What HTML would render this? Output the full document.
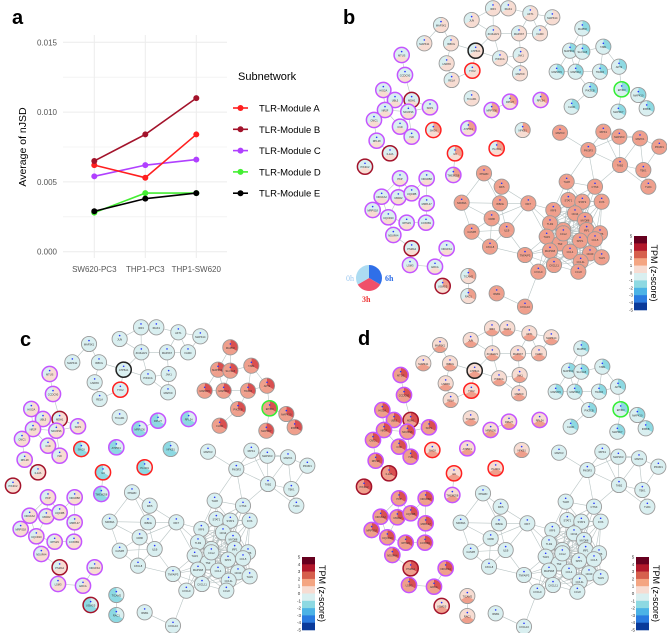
<!DOCTYPE html>
<html><head><meta charset="utf-8"><style>
html,body{margin:0;padding:0;background:#fff;}
svg{display:block;font-family:"Liberation Sans",sans-serif;}
</style></head><body>
<svg id="fig" width="667" height="633" viewBox="0 0 667 633" xmlns="http://www.w3.org/2000/svg">
<g id="panelA"></g>
<g id="nets"></g>
</svg>
<script>
const categories = ["SW620-PC3","THP1-PC3","THP1-SW620"];
const seriesNames = ["TLR-Module A","TLR-Module B","TLR-Module C","TLR-Module D","TLR-Module E"];
const seriesA = [0.0062,0.0053,0.0084];
const seriesB = [0.0065,0.0084,0.0110];
const seriesC = [0.0054,0.0062,0.0066];
const seriesD = [0.0028,0.0042,0.0042];
const seriesE = [0.0029,0.0038,0.0042];
const yTicks = [0,0.005,0.010,0.015];
const yTickLabels = ["0.000","0.005","0.010","0.015"];
const seriesColors = ["#ff1f1f","#a3132b","#b040ff","#44ee33","#000000"];

const NS="http://www.w3.org/2000/svg";
function mk(tag,attrs,parent,txt){const e=document.createElementNS(NS,tag);for(const k in attrs)e.setAttribute(k,attrs[k]);if(txt!==undefined)e.textContent=txt;parent.appendChild(e);return e;}

// ---- Panel A ----
const A=document.getElementById('panelA');
const px0=63,px1=227,py0=251.7,pyPer=69.8/0.005;
const xScale=i=>94.3+i*51;
const yScale=v=>py0-v*pyPer;
let t=mk('text',{x:12,y:24,'font-size':20,'font-weight':'bold'},A,'a');


for(let v=0;v<=0.0155;v+=0.0025){
  const l=mk('line',{x1:px0,x2:px1,y1:yScale(v),y2:yScale(v),stroke:'#ececec','stroke-width':Math.round(v/0.0025)%2?0.6:1},A);
  
  
}
categories.forEach((c,i)=>{
  const l=mk('line',{x1:xScale(i),x2:xScale(i),y1:35,y2:258,stroke:'#ececec','stroke-width':1},A);
  
  
  const tx=mk('text',{x:xScale(i),y:272,'font-size':8,fill:'#555','text-anchor':'middle'},A,c);
  
  
});
yTicks.forEach((v,i)=>{
  const tx=mk('text',{x:57,y:yScale(v)+3,'font-size':8,fill:'#555','text-anchor':'end'},A,yTickLabels[i]);
  
  
});
t=mk('text',{x:0,y:0,'font-size':10.5,transform:'translate(26,147) rotate(-90)','text-anchor':'middle'},A,'Average of nJSD');


const allSeries=[seriesA,seriesB,seriesC,seriesD,seriesE];
const drawOrder=[3,4,2,0,1];
drawOrder.forEach(si=>{
  const s=allSeries[si];
  const pl=mk('polyline',{points:s.map((v,i)=>xScale(i)+','+yScale(v)).join(' '),fill:'none',stroke:seriesColors[si],'stroke-width':1.6},A);
  
  
  s.forEach((v,i)=>{
    const c=mk('circle',{cx:xScale(i),cy:yScale(v),r:3,fill:seriesColors[si]},A);
    
    
  });
});
t=mk('text',{x:238,y:80,'font-size':11},A,'Subnetwork');


seriesNames.forEach((n,i)=>{
  const y=108+i*21.3;
  const g=mk('g',{},A);
  
  
  mk('line',{x1:233,x2:248,y1:y,y2:y,stroke:seriesColors[i],'stroke-width':1.6},g);
  mk('circle',{cx:240.5,cy:y,r:3,fill:seriesColors[i]},g);
  mk('text',{x:259,y:y+3.5,'font-size':9.5},g,n);
});

// ---- Networks ----
const nodes=[
["IRF3",489,25,"n","T"],["IRAK1",535,25,"n","T"],["AKT1",601,40,"n","T"],["MAPK14",667,52,"n","T"],["JUN",425,60,"n","T"],["MAP3K1",333,75,"n","T"],["ZC3HAV1",490,100,"n","T"],["MAP2K7",567,100,"n","T"],["FADD",630,100,"n","T"],["MAPK11",283,130,"n","T"],["IKBKG",363,130,"n","T"],["ATP5A1",437,152,"k","T"],["PIK3CA",510,175,"n","T"],["JAK1",572,165,"n","T"],["HSPA5",350,190,"n","T"],["TYK2",427,212,"r","T"],["MAPK9",570,220,"n","T"],["RELA",365,240,"n","T"],["TICAM1",425,295,"n","T"],
["MAPK8",757,85,"n","R"],["MAP3K14",720,152,"n","R"],["SLC1A5",757,155,"n","R"],["TAB1",820,140,"n","R"],["MAP2K5",680,215,"n","R"],["MAP3K2",737,215,"n","R"],["AKT2",867,200,"n","R"],["TRAF6",810,215,"n","R"],["EP300",875,268,"g","R"],["MAPK10",925,285,"n","R"],["PIK3CB",780,270,"n","R"],["CHUK",725,320,"n","R"],["IKBKB",950,325,"n","R"],["MAP3K7",865,335,"n","R"],
["RPL27",540,305,"p","M"],["RPL34",632,300,"p","M"],["MRPS36",485,330,"p","M"],["ATP5F1",415,385,"p","M"],["NFKB1",578,390,"n","M"],["PLOD1",500,445,"r","M"],["IL6",375,460,"r","M"],["SHOX",310,390,"r","M"],["TMEM258",370,525,"p","M"],["USMG5",338,858,"d","M"],["RAC1",415,888,"n","M"],["TICAM2",415,828,"n","M"],
["MTUS",215,165,"p","L"],["CCDC90",225,225,"p","L"],["HIG2A",160,270,"p","L"],["MDH1",245,300,"d","L"],["UBL5",195,300,"p","L"],["SKP1",300,322,"p","L"],["NR2F",165,330,"p","L"],["NDUFS6",235,335,"p","L"],["CMC1",132,360,"p","L"],["C1D",210,380,"p","L"],["ISD",245,410,"p","L"],["RPL28",140,422,"p","L"],["IL12A",180,460,"d","L"],["PIK3C2",105,500,"d","L"],["PKP",210,535,"p","L"],["NDUFB8",290,535,"p","L"],["NDUFA2",155,590,"p","L"],["UBA52",205,592,"p","L"],["UQCRB",245,580,"p","L"],["MRPL47",290,610,"p","L"],["MRPS18",128,630,"p","L"],["UQCR10",175,652,"p","L"],["RPS29",230,668,"p","L"],["COX6B1",288,668,"p","L"],["NDUFA4",190,705,"p","L"],["PSMA2",245,745,"d","L"],["NDUFS4",350,745,"p","L"],["LSM3",240,795,"p","L"],["ERCA",315,800,"p","L"],
["MAPK3",690,398,"n","B"],["RIPK1",820,395,"n","B"],["MAP2K3",868,410,"n","B"],["MAPK1",930,415,"n","B"],["PIK3R1",988,440,"n","B"],["PIK3R3",775,450,"n","B"],["TAB2",870,495,"n","B"],["TBK1",940,510,"n","B"],["TLR4",955,560,"n","B"],["PPARD",462,520,"n","B"],["IRF5",515,560,"n","B"],["NFKBIA",395,608,"n","B"],["IKBKE",510,610,"n","B"],["IRF7",595,610,"n","B"],["CD80",485,655,"n","B"],["CASP8",425,695,"n","B"],["IL1B",530,690,"n","B"],["CXCL8",480,740,"n","B"],["IFNB1",500,880,"n","B"],["CXCL10",585,920,"n","B"],["TNFAIP3",585,765,"n","B"],["TLR8",710,545,"n","B"],["CTSK",795,560,"n","B"],["STAT1",715,600,"n","B"],["STAT2",757,605,"n","B"],["IRF9",670,630,"n","B"],["CD14",735,640,"n","B"],["MYD88",765,660,"n","B"],["FOS",815,605,"n","B"],["TLR2",660,670,"n","B"],["CCL3L1",700,690,"n","B"],["IRF1",770,690,"n","B"],["CD86",810,700,"n","B"],["TLR3",650,710,"n","B"],["TNF",690,730,"n","B"],["SPP1",750,722,"n","B"],["CCL5",795,718,"n","B"],["CCL4",720,755,"n","B"],["MAP3K8",660,752,"n","B"],["CD40",780,760,"n","B"],["TLR9",815,772,"n","B"],["CCL4L",752,785,"n","B"],["CXCL11",672,795,"n","B"],["CXCL9",625,815,"n","B"],["CCL8",745,815,"n","B"],["CCL2",700,700,"n","B"]
];
const LC="#d9eff0",LP="#f7dcd2",S="#ef9f8c",R="#d95050",CY="#8dd9e2";
const groupColorsB={T:[LC,LP,LP],R:[LC,LC,CY],M:[LC,LP,S],L:[LC,LP,LC],B:[S,S,S]};
const groupColorsC={T:[LC,LC,LC],R:[S,S,R],M:[CY,CY,LC],L:[LC,LP,LP],B:[LC,LC,LC]};
const groupColorsD={T:[LP,S,LP],R:[LC,LC,CY],M:[LP,S,LP],L:[S,S,R],B:[LC,LC,LC]};
const ringCol={n:"#9a9a9a",p:"#c455ff",d:"#a3132b",r:"#ff2020",k:"#222",g:"#33ee33"};
const barColors=["#67001f","#b2182b","#d6604d","#f4a582","#f7dcd2","#d9eff0","#8dd9e2","#4cb3e6","#2a7be0","#0a3a9a"];
const barLabels=["5","4","3","2","1","0","-1","-2","-3","-4","-5"];

function pt(cx,cy,r,a){return [cx+r*Math.sin(a),cy-r*Math.cos(a)];}
function slice(g,cx,cy,r,a0,a1,fill){
  const p0=pt(cx,cy,r,a0),p1=pt(cx,cy,r,a1);
  mk('path',{d:`M${cx},${cy}L${p0[0].toFixed(2)},${p0[1].toFixed(2)}A${r},${r} 0 0 1 ${p1[0].toFixed(2)},${p1[1].toFixed(2)}Z`,fill:fill},g);
}
function drawNet(ox,oy,cols,name,bar){
  const N=mk('g',{},document.getElementById('nets'));
  
  
  const P=nodes.map(n=>[n[1]/3+330+ox,n[2]/3+oy]);
  const E=mk('g',{stroke:'#b8c4c4','stroke-width':0.6},N);
  
  
  for(let i=0;i<P.length;i++)for(let j=i+1;j<P.length;j++){
    const d=Math.hypot(P[i][0]-P[j][0],P[i][1]-P[j][1]);
    const same=nodes[i][4]===nodes[j][4];
    if(d<(same?(nodes[i][4]==='B'?40:26):20)) mk('line',{x1:P[i][0],y1:P[i][1],x2:P[j][0],y2:P[j][1]},E);
  }
  nodes.forEach((n,i)=>{
    const [cx,cy]=P[i];const c=cols[n[4]];const r=7.6;
    const g=mk('g',{},N);
    
    
    const tw=2*Math.PI/3;
    slice(g,cx,cy,r,0,tw,c[2]);slice(g,cx,cy,r,tw,2*tw,c[1]);slice(g,cx,cy,r,2*tw,3*tw,c[0]);
    mk('circle',{cx:cx,cy:cy,r:r,fill:'none',stroke:ringCol[n[3]],'stroke-width':n[3]==='n'?0.9:1.5},g);
    mk('circle',{cx:cx,cy:cy-3.4,r:0.8,fill:'#2233ff'},g);
    mk('text',{x:cx,y:cy+1.5,'font-size':2.6,'text-anchor':'middle',fill:'#333'},g,n[0]);
  });
  const B=mk('g',{},N);
  
  
  const bx=bar[0],by=bar[1],bh=bar[2];
  barColors.forEach((c,i)=>mk('rect',{x:bx,y:by+i*bh/10,width:13,height:bh/10+0.3,fill:c},B));
  barLabels.forEach((l,i)=>mk('text',{x:bx-3,y:by+i*bh/10+1.5,'font-size':4.5,'text-anchor':'middle',fill:'#333'},B,l));
  mk('text',{x:0,y:0,'font-size':9,transform:`translate(${bx+17},${by+bh/2}) rotate(90)`,'text-anchor':'middle'},B,'TPM (z-score)');
}
drawNet(0,0,groupColorsB,'network-b',[634,236,74]);
drawNet(-352,319,groupColorsC,'network-c',[302,557,73]);
drawNet(-1,320,groupColorsD,'network-d',[636,557,73]);

const PL=mk('g',{},document.getElementById('nets'));


const tw=2*Math.PI/3;
slice(PL,369,278,13,0,tw,'#2f6fe8');slice(PL,369,278,13,tw,2*tw,'#f0506a');slice(PL,369,278,13,2*tw,3*tw,'#acdcf2');
mk('text',{x:346,y:281,'font-size':8,fill:'#9cc8f0','font-family':'Liberation Serif'},PL,'0h');
mk('text',{x:385,y:281,'font-size':8,fill:'#2f6fe8','font-family':'Liberation Serif','font-weight':'bold'},PL,'6h');
mk('text',{x:362,y:302,'font-size':8,fill:'#e33','font-family':'Liberation Serif','font-weight':'bold'},PL,'3h');

[['b',343,24],['c',20,346],['d',358,345]].forEach(l=>{
  const e=mk('text',{x:l[1],y:l[2],'font-size':20,'font-weight':'bold'},document.getElementById('nets'),l[0]);
  
  
});
</script>
</body></html>
